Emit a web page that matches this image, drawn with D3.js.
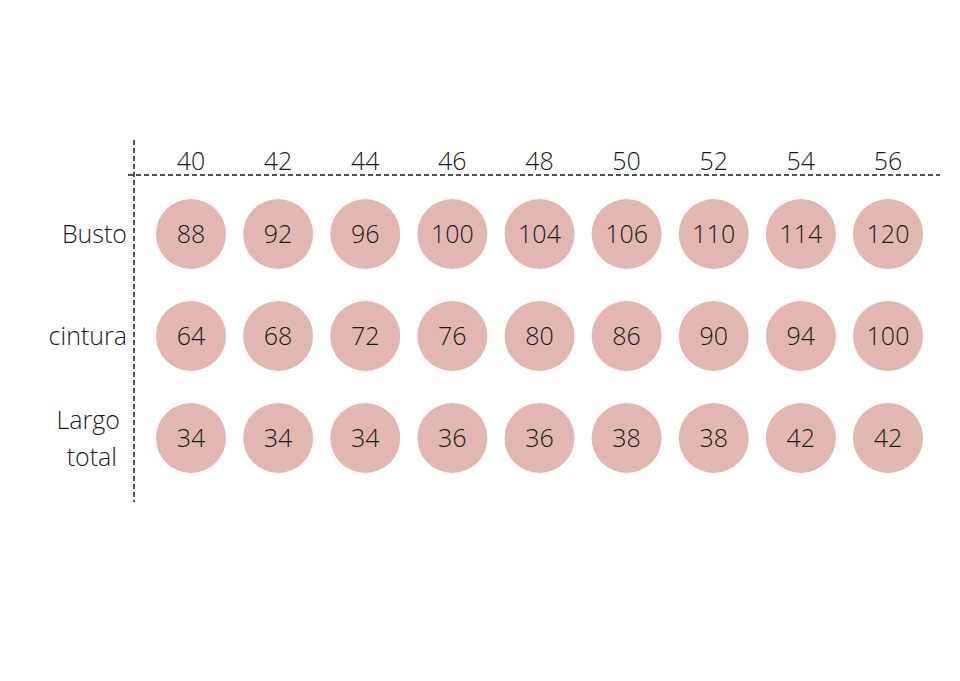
<!DOCTYPE html>
<html><head><meta charset="utf-8">
<script src="https://cdn.jsdelivr.net/npm/d3@7"></script>
<style>body{margin:0;background:#fff}</style>
</head><body>
<script>
const sizes = ["40","42","44","46","48","50","52","54","56"];
const rows = ["Busto","cintura","Largo total"];
const busto = [88,92,96,100,104,106,110,114,120];
const cintura = [64,68,72,76,80,86,90,94,100];
const largo = [34,34,34,36,36,38,38,42,42];
const values = [busto, cintura, largo];

const W=960,H=681;
const svg=d3.select("body").append("svg").attr("width",W).attr("height",H)
  .style("font-family","'Open Sans', sans-serif").style("font-weight",300);
const x=d3.scalePoint().domain(sizes).range([191,888]);
const y=d3.scalePoint().domain(rows).range([234,438]);
const ink="#1a1a1a";

svg.append("line").attr("x1",128).attr("x2",940).attr("y1",175).attr("y2",175)
  .attr("stroke",ink).attr("stroke-width",1.5).attr("stroke-dasharray","5,3");
svg.append("line").attr("x1",134).attr("x2",134).attr("y1",140).attr("y2",502)
  .attr("stroke",ink).attr("stroke-width",1.5).attr("stroke-dasharray","5,3");

svg.selectAll(".h").data(sizes).join("text").attr("x",d=>x(d)).attr("y",170)
  .attr("text-anchor","middle").attr("font-size",25).attr("fill",ink).text(d=>d);

rows.forEach((r,i)=>{
  const parts=r==="Largo total"?["Largo","total"]:[r];
  const t=svg.append("text").attr("text-anchor","end").attr("font-size",25).attr("fill",ink);
  parts.forEach((p,j)=>t.append("tspan").attr("x",parts.length>1?(j?117:120):127)
    .attr("y",y(r)+9+(parts.length>1?(j?19:-18):0)).text(p));
  const g=svg.append("g");
  g.selectAll("circle").data(values[i]).join("circle").attr("cx",(d,k)=>x(sizes[k])).attr("cy",y(r))
    .attr("r",35).attr("fill","#e2b7b1");
  g.selectAll("text").data(values[i]).join("text").attr("x",(d,k)=>x(sizes[k])).attr("y",y(r)+9)
    .attr("text-anchor","middle").attr("font-size",25).attr("fill",ink).text(d=>d);
});
</script>
</body></html>
